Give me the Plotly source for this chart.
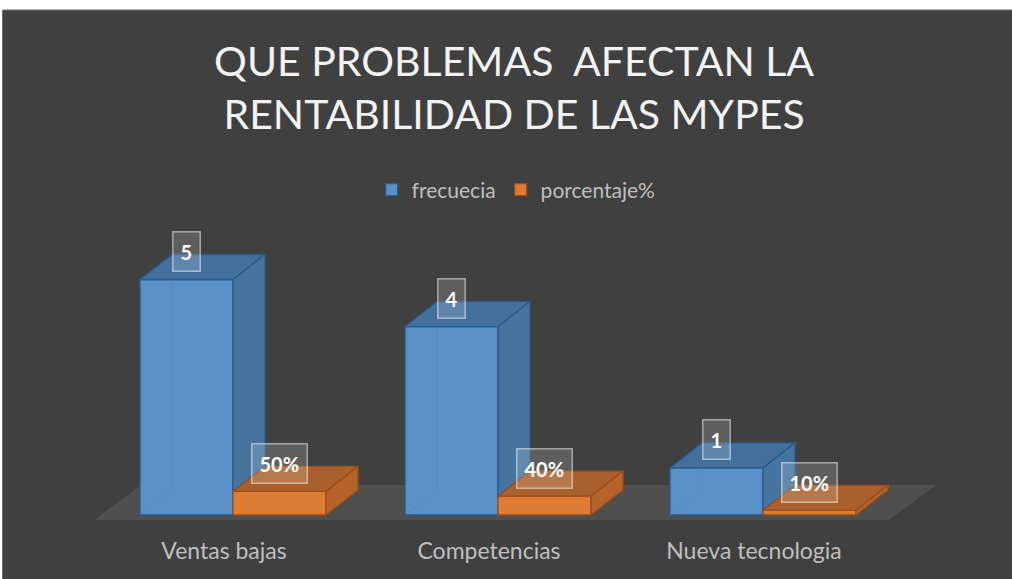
import plotly.graph_objects as go

# ---- data ----
categories = ["Ventas bajas", "Competencias", "Nueva tecnologia"]
frecuencia = [5, 4, 1]
porcentaje = [0.5, 0.4, 0.1]
porcentaje_labels = ["50%", "40%", "10%"]
series_names = ["frecuecia", "porcentaje%"]
title_text = "QUE PROBLEMAS  AFECTAN LA<br>RENTABILIDAD DE LAS MYPES"

# ---- style / geometry constants ----
W_PX, H_PX = 1012, 579
B_MARGIN = 50
X0_PX, X_SCALE = 233.0, 265.0      # category index -> pixel
Y0_PX, Y_SCALE = 515.0, 47.1       # value -> pixel
BAR_W = 93 / X_SCALE
DX, DY = 32 / X_SCALE, 25 / Y_SCALE
F_DX, F_DY = 47 / X_SCALE, 35 / Y_SCALE
F_FRONT = -5 / Y_SCALE
F_SHIFT = -6.5 / X_SCALE

BLUE_FRONT, BLUE_TOP, BLUE_SIDE, BLUE_EDGE = "#5a8fc7", "#426f9b", "#47739f", "#2a5b8c"
ORA_FRONT, ORA_TOP, ORA_SIDE, ORA_EDGE = "#de7b35", "#a9602d", "#b5632b", "#9a4e1a"
BG = "#404040"
FLOOR = "#4f4f4f"
FONT = "Lato"

plot_h = H_PX - B_MARGIN
x_range = [-X0_PX / X_SCALE, (W_PX - X0_PX) / X_SCALE]
y_range = [(Y0_PX - plot_h) / Y_SCALE, Y0_PX / Y_SCALE]

idx = list(range(len(categories)))

fig = go.Figure()
fig.add_trace(go.Bar(
    x=idx, y=frecuencia, name=series_names[0], width=BAR_W, offset=-BAR_W,
    marker=dict(color=BLUE_FRONT, line=dict(color=BLUE_EDGE, width=1.3)),
    hoverinfo="skip"))
fig.add_trace(go.Bar(
    x=idx, y=porcentaje, name=series_names[1], width=BAR_W, offset=0,
    marker=dict(color=ORA_FRONT, line=dict(color=ORA_EDGE, width=1.3)),
    hoverinfo="skip"))

shapes = []
# chart background with border (white strip at top/left like the reference)
shapes.append(dict(type="rect", xref="paper", yref="paper", layer="below",
                   x0=2.5 / W_PX, x1=1.02, y0=-0.2, y1=1 - 10 / plot_h,
                   fillcolor=BG, line=dict(color="#6e6e6e", width=1)))
# floor
n = len(categories)
fx0, fx1 = -0.5 + F_SHIFT, (n - 0.5) + F_SHIFT
shapes.append(dict(type="path", xref="x", yref="y", layer="below",
                   path=f"M{fx0},{F_FRONT} L{fx1},{F_FRONT} L{fx1 + F_DX},{F_FRONT + F_DY} "
                        f"L{fx0 + F_DX},{F_FRONT + F_DY} Z",
                   fillcolor=FLOOR, line=dict(width=0)))


def path(pts):
    return "M" + " L".join(f"{a},{b}" for a, b in pts) + " Z"


for i, v, o in zip(idx, frecuencia, porcentaje):
    # faint hidden edges of blue bar seen through its front
    shapes.append(dict(type="path", xref="x", yref="y", layer="above",
                       path=f"M{i - BAR_W},0 L{i - BAR_W + DX},{DY} L{i - BAR_W + DX},{v + DY}",
                       line=dict(color="rgba(70,130,200,0.35)", width=1)))
    # blue top
    shapes.append(dict(type="path", xref="x", yref="y", layer="above",
                       path=path([(i - BAR_W, v), (i, v), (i + DX, v + DY), (i - BAR_W + DX, v + DY)]),
                       fillcolor=BLUE_TOP, line=dict(color=BLUE_EDGE, width=1.3)))
    # blue side (visible part above the adjacent orange bar)
    lo = min(o, v)
    shapes.append(dict(type="path", xref="x", yref="y", layer="above",
                       path=path([(i, lo), (i, v), (i + DX, v + DY), (i + DX, lo + DY)]),
                       fillcolor=BLUE_SIDE, line=dict(color=BLUE_EDGE, width=1.3)))
    # orange top
    shapes.append(dict(type="path", xref="x", yref="y", layer="above",
                       path=path([(i, o), (i + BAR_W, o), (i + BAR_W + DX, o + DY), (i + DX, o + DY)]),
                       fillcolor=ORA_TOP, line=dict(color=ORA_EDGE, width=1.3)))
    # orange side
    shapes.append(dict(type="path", xref="x", yref="y", layer="above",
                       path=path([(i + BAR_W, 0), (i + BAR_W, o), (i + BAR_W + DX, o + DY), (i + BAR_W + DX, DY)]),
                       fillcolor=ORA_SIDE, line=dict(color=ORA_EDGE, width=1.3)))

annotations = []
lab_off = 3 / Y_SCALE   # a few pixels above the back top edge
for i, v, o, ol in zip(idx, frecuencia, porcentaje, porcentaje_labels):
    for xc, yv, txt in ((i - BAR_W / 2, v, str(v)), (i + BAR_W / 2, o, ol)):
        annotations.append(dict(
            x=xc, y=yv + DY + lab_off, xref="x", yref="y", text=f"<b>{txt}</b>",
            showarrow=False, xanchor="center", yanchor="middle",
            font=dict(family=FONT, size=20, color="#ffffff"),
            bgcolor="rgba(255,255,255,0.16)", bordercolor="rgba(255,255,255,0.5)",
            borderwidth=1.5, borderpad=7))

fig.update_layout(
    width=W_PX, height=H_PX,
    margin=dict(l=0, r=0, t=0, b=B_MARGIN, pad=0),
    paper_bgcolor="#ffffff", plot_bgcolor="rgba(0,0,0,0)",
    barmode="overlay",
    title=dict(text=title_text, x=0.508, xanchor="center", y=1 - 76 / H_PX, yanchor="middle",
               font=dict(family=FONT, size=41, color="#f2f2f2")),
    legend=dict(orientation="h", x=0.51, xanchor="center", y=1 - 190 / plot_h, yanchor="middle",
                font=dict(family=FONT, size=21, color="#bfbfbf"), bgcolor="rgba(0,0,0,0)",
                itemclick=False),
    xaxis=dict(range=x_range, tickvals=[i - 9 / X_SCALE for i in idx], ticktext=categories,
               showgrid=False, zeroline=False, showline=False, ticks="",
               tickfont=dict(family=FONT, size=23, color="#bfbfbf"), ticklabelstandoff=6,
               fixedrange=True),
    yaxis=dict(range=y_range, visible=False, fixedrange=True),
    shapes=shapes, annotations=annotations,
)

fig.write_html("out.html", config={"displayModeBar": False},
               post_script="document.body.style.margin='0';")
